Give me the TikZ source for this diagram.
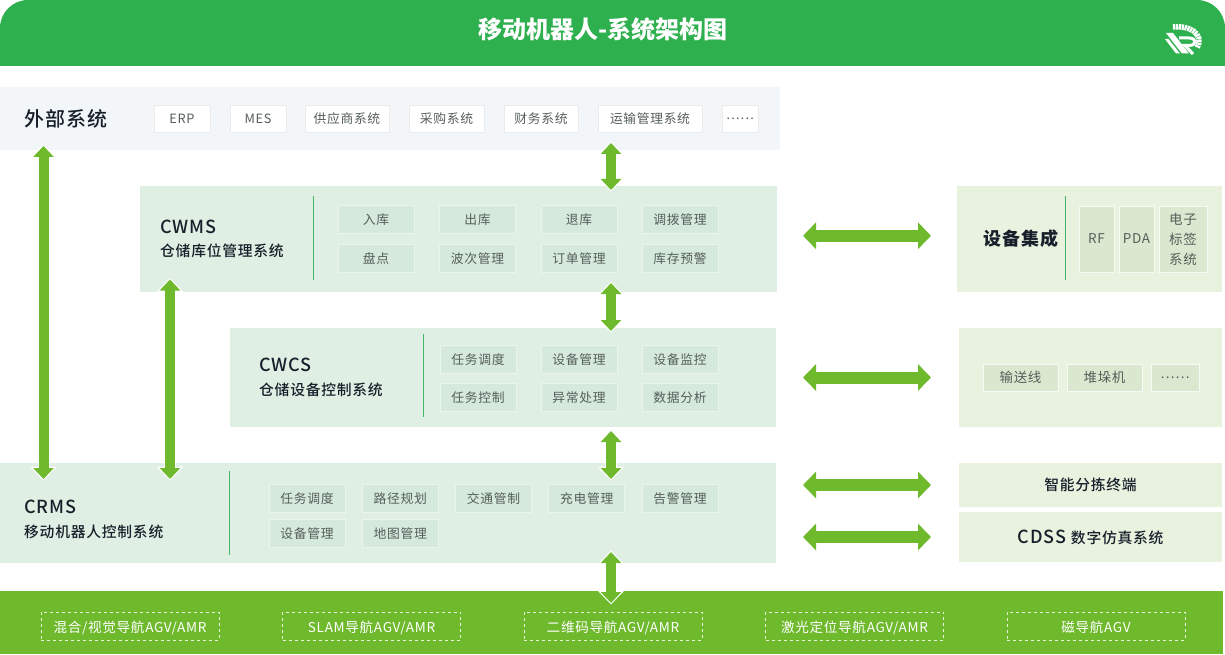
\documentclass[tikz,border=0pt]{standalone}
\usepackage{fontspec}
\setmainfont[LetterSpace=5]{Noto Sans CJK SC}
\newfontfamily\titlefont{Noto Sans CJK SC}
\newfontfamily\mediumfont[LetterSpace=5]{Noto Sans CJK SC Medium}
\usetikzlibrary{arrows.meta,positioning,calc,shapes.geometric}
\definecolor{headgreen}{HTML}{2EB04F}
\definecolor{arrowgreen}{HTML}{6FB92D}
\definecolor{extbg}{HTML}{F2F6F9}
\definecolor{sysbg}{HTML}{E0EFE4}
\definecolor{sysitem}{HTML}{D5E9DC}
\definecolor{sysedge}{HTML}{EAF5EE}
\definecolor{devbg}{HTML}{E9F2DF}
\definecolor{devitem}{HTML}{DAE8CF}
\definecolor{sepgreen}{HTML}{45B568}
\definecolor{darktext}{HTML}{17202A}
\definecolor{itemtext}{HTML}{555F5A}
\begin{document}
\begin{tikzpicture}[
  x=1pt, y=-1pt,
  panel/.style={anchor=north west, inner sep=0pt, outer sep=0pt},
  extitem/.style={draw=white!92!black, line width=.5pt, fill=white, minimum height=27pt, inner sep=0pt, outer sep=0pt, font=\fontsize{12.8}{14}\selectfont, text=itemtext},
  sysbox/.style={draw=sysedge, line width=1pt, fill=sysitem, minimum width=76pt, minimum height=28pt, inner sep=0pt, outer sep=0pt, text height=12.3pt, text depth=.5pt, font=\fontsize{12.8}{14}\selectfont, text=itemtext},
  devbox/.style={draw=white!60!devbg, line width=.8pt, fill=devitem, minimum height=27pt, inner sep=0pt, outer sep=0pt, font=\fontsize{13.5}{20}\selectfont, text=itemtext},
  agvbox/.style={draw=white!85!arrowgreen, dashed, line width=.7pt, minimum width=178pt, minimum height=28pt, inner sep=0pt, outer sep=0pt, text height=13pt, text depth=.6pt, font=\fontsize{13.6}{16}\selectfont, text=white},
  systitle/.style={anchor=west, inner sep=0pt, font=\mediumfont\fontsize{18}{20}\selectfont, text=darktext},
  syssub/.style={anchor=west, inner sep=0pt, font=\mediumfont\fontsize{14.8}{17}\selectfont, text=darktext},
  sepline/.style={draw=sepgreen, line width=.9pt},
  varr/.style 2 args={{Triangle[length=11pt,width=20pt]}-{Triangle[length=11pt,width=20pt]}, draw=arrowgreen, fill=arrowgreen, line width=10pt, shorten <=#1, shorten >=#2, preaction={draw=white, fill=white, line width=12pt, arrows={Triangle[length=14pt,width=26pt]}-{Triangle[length=14pt,width=26pt]}, shorten <=#1-1.5pt, shorten >=#2-1.5pt}},
  harr/.style={{Triangle[length=13pt,width=26pt]}-{Triangle[length=13pt,width=26pt]}, draw=arrowgreen, fill=arrowgreen, line width=12pt, shorten <=26pt, shorten >=26pt},
]
\useasboundingbox (0,0) rectangle (1225,655);
\path[fill=headgreen] (0,66) [rounded corners=28pt] -- (0,0) -- (1225,0) [sharp corners] -- (1225,66) -- cycle;
\node[inner sep=0pt, text=white, font=\titlefont\fontsize{24}{28}\selectfont\bfseries] (heading) at (603,29.5) {移动机器人-系统架构图};

\fill[white] (1166,33) -- (1173,33) -- (1189,53.5) -- (1182,53.5) -- cycle;
\fill[white] (1165,39) -- (1168.5,39) -- (1180,53.5) -- (1176,53.5) -- cycle;
\draw[white, line width=3pt] (1179,38) -- (1189,38) .. controls (1197,38) and (1197,45.5) .. (1189,45.5) -- (1185,45.5) -- (1193,54);
\draw[white, line width=5.5pt, dash pattern=on 2.2pt off .7pt] (1173,27) .. controls (1188,25) and (1205,33) .. (1197,48);

\node[panel, fill=extbg, minimum width=780pt, minimum height=63pt] (ext) at (0,87) {};
\node[panel, fill=sysbg, minimum width=637.5pt, minimum height=105.5pt] (wms) at (139.5,186) {};
\node[panel, fill=sysbg, minimum width=546.5pt, minimum height=99pt] (wcs) at (229.5,328) {};
\node[panel, fill=sysbg, minimum width=776pt, minimum height=99.5pt] (rms) at (0,463) {};
\node[panel, fill=arrowgreen, minimum width=1223pt, minimum height=63pt] (agv) at (0,591) {};
\node[panel, fill=devbg, minimum width=265pt, minimum height=105.5pt] (dev) at (957,186) {};
\node[panel, fill=devbg, minimum width=263pt, minimum height=99pt] (con) at (959,328) {};
\node[panel, fill=devbg, minimum width=263pt, minimum height=44pt, font=\mediumfont\fontsize{14.8}{17}\selectfont, text=darktext, align=center] (term) at (959,463) {智能分拣终端};
\node[panel, fill=devbg, minimum width=263pt, minimum height=50pt, text=darktext, align=center, font=\mediumfont] (cdss) at (959,512) {\fontsize{18}{20}\selectfont CDSS \fontsize{14.8}{17}\selectfont 数字仿真系统};

\node[anchor=west, inner sep=0pt, font=\mediumfont\fontsize{20}{22}\selectfont, text=darktext] (exttitle) at (24,118.5) {外部系统};
\node[extitem, minimum width=56pt] (erp) at (182,118.5) {ERP};
\node[extitem, minimum width=56pt, right=20pt of erp] (mes) {MES};
\node[extitem, minimum width=84pt, right=19pt of mes] (supplier) {供应商系统};
\node[extitem, minimum width=75pt, right=20pt of supplier] (purchase) {采购系统};
\node[extitem, minimum width=74pt, right=20pt of purchase] (finance) {财务系统};
\node[extitem, minimum width=104pt, right=20pt of finance] (transport) {运输管理系统};
\node[extitem, minimum width=36pt, right=20pt of transport] (extmore) {……};

\node[systitle] (wmstitle) at (160,227) {CWMS};
\node[syssub] (wmssub) at (160,251) {仓储库位管理系统};
\draw[sepline] (313.5,196) -- (313.5,280);
\node[sysbox] (inbound) at (376,219) {入库};
\node[sysbox, right=25.5pt of inbound] (outbound) {出库};
\node[sysbox, right=25.5pt of outbound] (backstock) {退库};
\node[sysbox, right=25pt of backstock] (transfer) {调拨管理};
\node[sysbox] (count) at (376,258) {盘点};
\node[sysbox, right=25.5pt of count] (wave) {波次管理};
\node[sysbox, right=25.5pt of wave] (order) {订单管理};
\node[sysbox, right=25pt of order] (alarmstock) {库存预警};

\node[systitle] (wcstitle) at (259,365) {CWCS};
\node[syssub] (wcssub) at (259,390) {仓储设备控制系统};
\draw[sepline] (423.5,334) -- (423.5,417);
\node[sysbox] (wcsdispatch) at (478,359) {任务调度};
\node[sysbox, right=25pt of wcsdispatch] (wcsdevice) {设备管理};
\node[sysbox, right=25pt of wcsdevice] (wcsmonitor) {设备监控};
\node[sysbox] (wcstask) at (478,397) {任务控制};
\node[sysbox, right=25pt of wcstask] (wcsfault) {异常处理};
\node[sysbox, right=25pt of wcsfault] (wcsdata) {数据分析};

\node[systitle] (rmstitle) at (24,507) {CRMS};
\node[syssub] (rmssub) at (24,532) {移动机器人控制系统};
\draw[sepline] (229.5,471) -- (229.5,555);
\node[sysbox] (rmsdispatch) at (307,498) {任务调度};
\node[sysbox, right=17.25pt of rmsdispatch] (rmspath) {路径规划};
\node[sysbox, right=17.25pt of rmspath] (rmstraffic) {交通管制};
\node[sysbox, right=17.25pt of rmstraffic] (rmscharge) {充电管理};
\node[sysbox, right=17.25pt of rmscharge] (rmsalarm) {告警管理};
\node[sysbox] (rmsdevice) at (307,533) {设备管理};
\node[sysbox, right=17.25pt of rmsdevice] (rmsmap) {地图管理};

\node[anchor=east, inner sep=0pt, font=\fontsize{18}{20}\selectfont\bfseries, text=darktext] (devtitle) at (1058.5,239) {设备集成};
\draw[sepline] (1065,196) -- (1065,280);
\node[devbox, minimum width=35pt, minimum height=66pt] (rf) at (1096.5,239) {RF};
\node[devbox, minimum width=35pt, minimum height=66pt, right=5pt of rf] (pda) {PDA};
\node[devbox, minimum width=48pt, minimum height=66pt, right=5pt of pda, align=center] (tag) {电子\\标签\\系统};

\node[devbox, minimum width=75pt] (conveyor) at (1020.5,377.5) {输送线};
\node[devbox, minimum width=75pt, right=9pt of conveyor] (stacker) {堆垛机};
\node[devbox, minimum width=48pt, right=9pt of stacker] (conmore) {……};

\node[agvbox] (hybrid) at (130,626) {混合/视觉导航AGV/AMR};
\node[agvbox, right=63.5pt of hybrid] (slam) {SLAM导航AGV/AMR};
\node[agvbox, right=63.5pt of slam] (qrcode) {二维码导航AGV/AMR};
\node[agvbox, right=63.5pt of qrcode] (laser) {激光定位导航AGV/AMR};
\node[agvbox, right=63.5pt of laser] (magnet) {磁导航AGV};

\coordinate (leftbus) at (43.5,0);
\coordinate (midbus) at (170,0);
\coordinate (mainbus) at (611,0);

\draw[varr={-4pt}{-16pt}] (ext.south -| leftbus) -- (rms.north -| leftbus);
\draw[varr={-12pt}{-16pt}] (wms.south -| midbus) -- (rms.north -| midbus);
\draw[varr={-7pt}{-4pt}] (ext.south -| mainbus) -- (wms.north -| mainbus);
\draw[varr={-8.5pt}{-3pt}] (wms.south -| mainbus) -- (wcs.north -| mainbus);
\draw[varr={4pt}{-16pt}] (wcs.south -| mainbus) -- (rms.north -| mainbus);
\draw[varr={-10.5pt}{-12pt}] (rms.south -| mainbus) -- (agv.north -| mainbus);

\draw[harr] ([yshift=3pt]wms.east) -- ([yshift=3pt]wms.east -| dev.west);
\draw[harr, shorten <=27pt, shorten >=28pt] (wcs.east) -- (wcs.east -| con.west);
\draw[harr, shorten <=27pt, shorten >=28pt] (rms.east |- term) -- (term);
\draw[harr, shorten <=27pt, shorten >=28pt] (rms.east |- cdss) -- (cdss);
\end{tikzpicture}
\end{document}
